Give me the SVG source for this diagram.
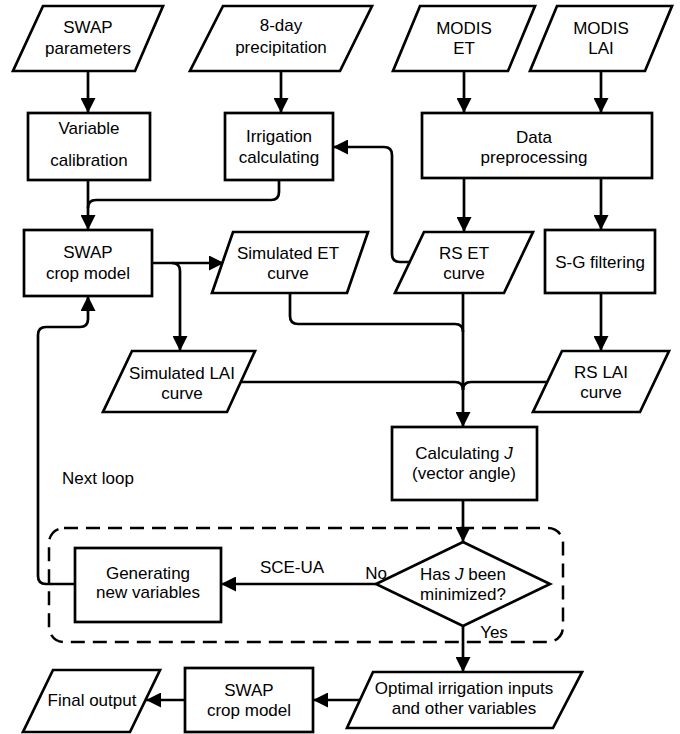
<svg xmlns="http://www.w3.org/2000/svg" width="680" height="734" viewBox="0 0 680 734">
<defs>
<style>
.n{fill:#fff;stroke:#000;stroke-width:2.7;stroke-linejoin:miter}
.t{font-family:"Liberation Sans",Arial,sans-serif;font-size:17px;fill:#000;text-anchor:middle}
.l{fill:none;stroke:#000;stroke-width:2.7}
.a{marker-end:url(#ah)}
.d{fill:none;stroke:#000;stroke-width:2.5;stroke-dasharray:14 8}
</style>
<marker id="ah" viewBox="0 0 15 15" refX="15" refY="7.5" markerWidth="15" markerHeight="15" markerUnits="userSpaceOnUse" orient="auto">
<path d="M0,0 L15,7.5 L0,15 z" fill="#000"/>
</marker>
</defs>
<rect width="680" height="734" fill="#fff"/>
<rect id="loop-box" class="d" x="49" y="528" width="514" height="114" rx="15"/>
<g id="connectors">
<path class="l a" d="M88,71 V113"/>
<path class="l a" d="M281,71 V113"/>
<path class="l a" d="M464,71 V113"/>
<path class="l a" d="M601,71 V113"/>
<path class="l a" d="M88,180 V230"/>
<path class="l" d="M279,180 V192 Q279,200 271,200 H96 Q88,200 88,208"/>
<path class="l a" d="M152,263 H224"/>
<path class="l a" d="M172,263 Q180,263 180,271 V351"/>
<path class="l" d="M290,293 V316 Q290,324 298,324 H455 Q463,324 463,332"/>
<path class="l" d="M241,382 H455 Q463,382 463,390"/>
<path class="l" d="M547,382 H471 Q463,382 463,390"/>
<path class="l a" d="M463,293 V427"/>
<path class="l a" d="M410,262 H400 Q392,262 392,254 V155 Q392,147 384,147 H333"/>
<path class="l a" d="M464,178 V232"/>
<path class="l a" d="M601,178 V230"/>
<path class="l a" d="M601,293 V351"/>
<path class="l a" d="M463,500 V542"/>
<path class="l a" d="M376,584 H221"/>
<path class="l a" d="M75,584 H46 Q38,584 38,576 V335 Q38,327 46,327 H80 Q88,327 88,319 V296"/>
<path class="l a" d="M463,626 V672"/>
<path class="l a" d="M360,700 H313"/>
<path class="l a" d="M185,700 H146"/>
</g>
<g id="swap-parameters"><polygon class="n" points="43,6 163,6 135,71 13,71"/><text class="t" x="88" y="33">SWAP</text><text class="t" x="88" y="54">parameters</text></g>
<g id="precipitation"><polygon class="n" points="223,6 372,6 340,71 190,71"/><text class="t" x="281" y="31">8-day</text><text class="t" x="281" y="53">precipitation</text></g>
<g id="modis-et"><polygon class="n" points="420,6 535,6 508,71 393,71"/><text class="t" x="464" y="34">MODIS</text><text class="t" x="464" y="54">ET</text></g>
<g id="modis-lai"><polygon class="n" points="557,6 672,6 645,71 530,71"/><text class="t" x="601" y="34">MODIS</text><text class="t" x="601" y="54">LAI</text></g>
<g id="variable-calibration"><rect class="n" x="28" y="113" width="122" height="67"/><text class="t" x="89" y="134">Variable</text><text class="t" x="89" y="166">calibration</text></g>
<g id="irrigation-calculating"><rect class="n" x="225" y="113" width="108" height="67"/><text class="t" x="279" y="142">Irrigation</text><text class="t" x="279" y="163">calculating</text></g>
<g id="data-preprocessing"><rect class="n" x="422" y="113" width="230" height="65"/><text class="t" x="534" y="143">Data</text><text class="t" x="534" y="163">preprocessing</text></g>
<g id="swap-crop-model"><rect class="n" x="24" y="230" width="128" height="66"/><text class="t" x="88" y="258">SWAP</text><text class="t" x="88" y="279">crop model</text></g>
<g id="simulated-et"><polygon class="n" points="233,232 368,232 347,293 212,293"/><text class="t" x="288" y="259">Simulated ET</text><text class="t" x="288" y="279">curve</text></g>
<g id="rs-et"><polygon class="n" points="424,232 533,232 504,293 395,293"/><text class="t" x="464" y="259">RS ET</text><text class="t" x="464" y="279">curve</text></g>
<g id="sg-filtering"><rect class="n" x="545" y="230" width="110" height="63"/><text class="t" x="600" y="268">S-G filtering</text></g>
<g id="simulated-lai"><polygon class="n" points="132,351 255,351 227,412 103,412"/><text class="t" x="182" y="379">Simulated LAI</text><text class="t" x="182" y="399">curve</text></g>
<g id="rs-lai"><polygon class="n" points="562,351 669,351 640,412 533,412"/><text class="t" x="601" y="378">RS LAI</text><text class="t" x="601" y="398">curve</text></g>
<g id="calculating-j"><rect class="n" x="392" y="427" width="145" height="73"/><text class="t" x="464" y="459">Calculating <tspan font-style="italic">J</tspan></text><text class="t" x="464" y="479">(vector angle)</text></g>
<g id="decision"><polygon class="n" points="463,542 550,584 463,626 376,584"/><text class="t" x="463" y="580">Has <tspan font-style="italic">J</tspan> been</text><text class="t" x="463" y="600">minimized?</text></g>
<g id="generating-variables"><rect class="n" x="75" y="548" width="146" height="74"/><text class="t" x="148" y="579">Generating</text><text class="t" x="148" y="598">new variables</text></g>
<g id="optimal"><polygon class="n" points="373,672 582,672 553,728 347,728"/><text class="t" x="464" y="694">Optimal irrigation inputs</text><text class="t" x="464" y="714">and other variables</text></g>
<g id="swap-final"><rect class="n" x="185" y="668" width="128" height="64"/><text class="t" x="249" y="696">SWAP</text><text class="t" x="249" y="716">crop model</text></g>
<g id="final-output"><polygon class="n" points="53,670 160,670 130,732 23,732"/><text class="t" x="92" y="706">Final output</text></g>
<g id="labels">
<text class="t" x="292" y="573">SCE-UA</text>
<text class="t" x="376" y="579">No</text>
<text class="t" x="494" y="638">Yes</text>
<text class="t" x="98" y="484">Next loop</text>
</g>
</svg>
